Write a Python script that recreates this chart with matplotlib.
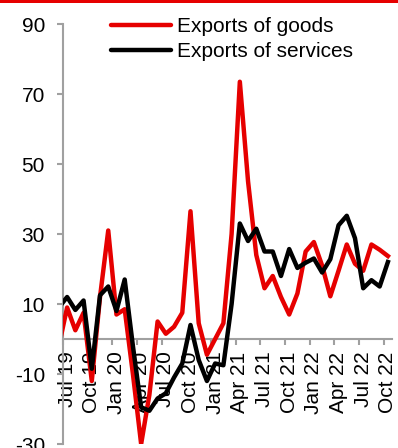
import numpy as np
import matplotlib
matplotlib.use("Agg")
import matplotlib.pyplot as plt
from matplotlib.patches import Rectangle

plt.rcParams['font.family'] = ['Liberation Sans', 'DejaVu Sans']

# Monthly data, Jun 19 .. Oct 22 (Jun 19 falls left of the axis and is clipped)
months = ["Jun 19", "Jul 19", "Aug 19", "Sep 19", "Oct 19", "Nov 19", "Dec 19",
          "Jan 20", "Feb 20", "Mar 20", "Apr 20", "May 20", "Jun 20", "Jul 20",
          "Aug 20", "Sep 20", "Oct 20", "Nov 20", "Dec 20", "Jan 21", "Feb 21",
          "Mar 21", "Apr 21", "May 21", "Jun 21", "Jul 21", "Aug 21", "Sep 21",
          "Oct 21", "Nov 21", "Dec 21", "Jan 22", "Feb 22", "Mar 22", "Apr 22",
          "May 22", "Jun 22", "Jul 22", "Aug 22", "Sep 22", "Oct 22"]
goods = [-2, 9, 2.5, 7.5, -12, 12, 31, 7, 8.5, -10, -30, -16, 5, 1.5, 3.5, 7.5,
         36.5, 4.5, -4.5, 0, 4.5, 30, 73.5, 45, 24, 14.5, 18, 12, 7, 13, 25,
         27.7, 21, 12.2, 19.5, 27, 21.5, 19.5, 27, 25.5, 23.7]
services = [9, 12, 8.3, 11, -8.5, 12.5, 15, 8, 17, -2, -19.5, -20.5, -17, -15.5,
            -11, -7, 4, -6, -12, -7, -7.5, 10, 33, 28, 31.5, 25, 25, 18, 25.7,
            20.3, 21.8, 23, 19, 22.8, 32.5, 35.2, 28.8, 14.5, 16.8, 15, 22]
tick_labels = ["Jul 19", "Oct 19", "Jan 20", "Apr 20", "Jul 20", "Oct 20",
               "Jan 21", "Apr 21", "Jul 21", "Oct 21", "Jan 22", "Apr 22",
               "Jul 22", "Oct 22"]
yticks = [-30, -10, 10, 30, 50, 70, 90]

W, H = 398, 448
FS = 15
fig = plt.figure(figsize=(W / 100, H / 100), dpi=100)
ax = fig.add_axes([63 / W, 4 / H, (392 - 63) / W, (444 - 24) / H])

# month index: Jul 19 = 0; points plotted mid-month
x = np.arange(len(months)) - 1 + 0.5
red = '#e60000'
ax.plot(x, goods, color=red, lw=3.2, label='Exports of goods', zorder=3)
ax.plot(x, services, color='black', lw=3.2, label='Exports of services', zorder=4)

ax.set_xlim(0, 40)
ax.set_ylim(-30, 90)

grey = '#a0a0a0'
for s in ['top', 'right']:
    ax.spines[s].set_visible(False)
ax.spines['left'].set_color(grey)
ax.spines['left'].set_linewidth(1.5)
ax.spines['bottom'].set_position(('data', 0))
ax.spines['bottom'].set_color(grey)
ax.spines['bottom'].set_linewidth(1.5)
ax.spines['bottom'].set_zorder(1)

ax.set_yticks(yticks)
ax.set_yticklabels([str(v) for v in yticks])
ax.tick_params(axis='y', direction='out', length=4, width=1.5, color=grey,
               labelsize=FS, pad=9, labelcolor='black')

major = np.arange(0, 40, 3)
ax.set_xticks(major)
ax.set_xticklabels([''] * len(major))
ax.tick_params(axis='x', which='major', direction='out', length=4.5, width=1.5,
               color=grey)
ax.set_xticks(major + 0.5, minor=True)
ax.set_xticklabels(tick_labels, minor=True, rotation=90, fontsize=FS,
                   va='top', ha='center')
ax.tick_params(axis='x', which='minor', length=0, pad=9)

leg = ax.legend(loc='upper left', bbox_to_anchor=(111 / W, 1 - 17 / H),
                bbox_transform=fig.transFigure, frameon=False, fontsize=FS,
                handlelength=2.9, handletextpad=0.25, labelspacing=0.3,
                borderpad=0, borderaxespad=0)
for h in leg.get_lines():
    h.set_linewidth(3.2)
    h.set_solid_capstyle('round')

fig.add_artist(Rectangle((0, 1 - 3 / H), 1, 3 / H, transform=fig.transFigure,
                         color=red, lw=0))

fig.savefig('out.png', dpi=100)
